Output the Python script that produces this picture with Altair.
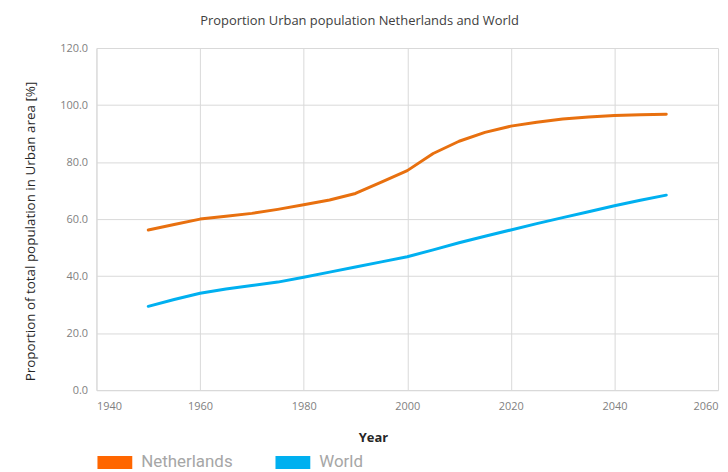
import altair as alt
import pandas as pd

# Urban share of total population (%), 5-year steps
years = [1950, 1955, 1960, 1965, 1970, 1975, 1980, 1985, 1990, 1995, 2000,
         2005, 2010, 2015, 2020, 2025, 2030, 2035, 2040, 2045, 2050]
netherlands = [56.2, 58.1, 60.0, 61.0, 62.0, 63.4, 65.0, 66.7, 69.0, 73.0, 77.0,
               83.0, 87.3, 90.4, 92.6, 94.0, 95.1, 95.8, 96.3, 96.6, 96.8]
world = [29.4, 31.8, 34.0, 35.5, 36.7, 37.9, 39.6, 41.4, 43.2, 45.0, 46.8,
         49.2, 51.7, 54.0, 56.2, 58.4, 60.5, 62.6, 64.7, 66.6, 68.4]
series_names = ["Netherlands", "World"]
line_colors = ["#E8700F", "#00B0F0"]
swatch_colors = ["#FF6600", "#00B0F0"]

df = pd.concat([
    pd.DataFrame({"Year": years, "Value": netherlands, "Series": series_names[0]}),
    pd.DataFrame({"Year": years, "Value": world, "Series": series_names[1]}),
])

FONT = "Open Sans"
PLOT_W, PLOT_H = 625, 344

x_enc = alt.X(
    "Year:Q",
    scale=alt.Scale(domain=[1940, 2060], nice=False, zero=False),
    axis=alt.Axis(
        values=[1940, 1960, 1980, 2000, 2020, 2040, 2060],
        format="d",
        title="Year",
        titleFontWeight="bold",
        titleFontSize=13,
        titleColor="#262626",
        titleFont=FONT,
        titleX=278,
        titleY=42,
        titleBaseline="top",
        labelFont=FONT,
        labelFontSize=11,
        labelColor="#7f7f7f",
        labelPadding=10,
        ticks=False,
        domainColor="#d9d9d9",
        gridColor="#d9d9d9",
        grid=True,
    ),
)
y_enc = alt.Y(
    "Value:Q",
    scale=alt.Scale(domain=[0, 120], nice=False),
    axis=alt.Axis(
        values=[0, 20, 40, 60, 80, 100, 120],
        format=".1f",
        title="Proportion of total population in Urban area [%]",
        titleFont=FONT,
        titleFontSize=13.5,
        titleFontWeight="normal",
        titleColor="#262626",
        titleX=-59,
        titleY=184,
        titleAngle=270,
        titleBaseline="bottom",
        labelFont=FONT,
        labelFontSize=11,
        labelColor="#7f7f7f",
        labelPadding=9,
        ticks=False,
        domainColor="#d9d9d9",
        gridColor="#d9d9d9",
        grid=True,
    ),
)

base = alt.Chart(df).encode(x=x_enc, y=y_enc)

# One line per series, each in its own colour
lines = [
    base.transform_filter(alt.datum.Series == name).mark_line(
        color=colour, strokeWidth=3, strokeCap="round", strokeJoin="round"
    )
    for name, colour in zip(series_names, line_colors)
]

# Zero-size points that carry the filled rectangular legend swatches
swatches = base.mark_point(filled=True, size=0).encode(
    fill=alt.Fill(
        "Series:N",
        scale=alt.Scale(domain=series_names, range=swatch_colors),
        legend=alt.Legend(
            title=None,
            orient="none",
            direction="horizontal",
            legendX=1,
            legendY=PLOT_H + 55,
            symbolType="M-1,-0.371H1V0.371H-1Z",
            symbolSize=1225,
            symbolStrokeWidth=0,
            symbolOpacity=1,
            labelFont="Roboto",
            labelFontSize=17,
            labelColor="#a6a6a6",
            labelOffset=9,
            columnPadding=43,
        ),
    )
)

chart = alt.layer(*lines, swatches).properties(
    width=PLOT_W,
    height=PLOT_H,
    title=alt.TitleParams(
        "Proportion Urban population Netherlands and World",
        font=FONT,
        fontSize=13,
        fontWeight="normal",
        color="#404040",
        anchor="middle",
        dx=-48,
        offset=14,
    ),
    padding={"left": 97, "top": 47, "right": 10, "bottom": 81},
    autosize=alt.AutoSizeParams(type="none"),
).configure_view(stroke=None)

chart.save("out.html", embed_options={"renderer": "svg", "actions": False})
